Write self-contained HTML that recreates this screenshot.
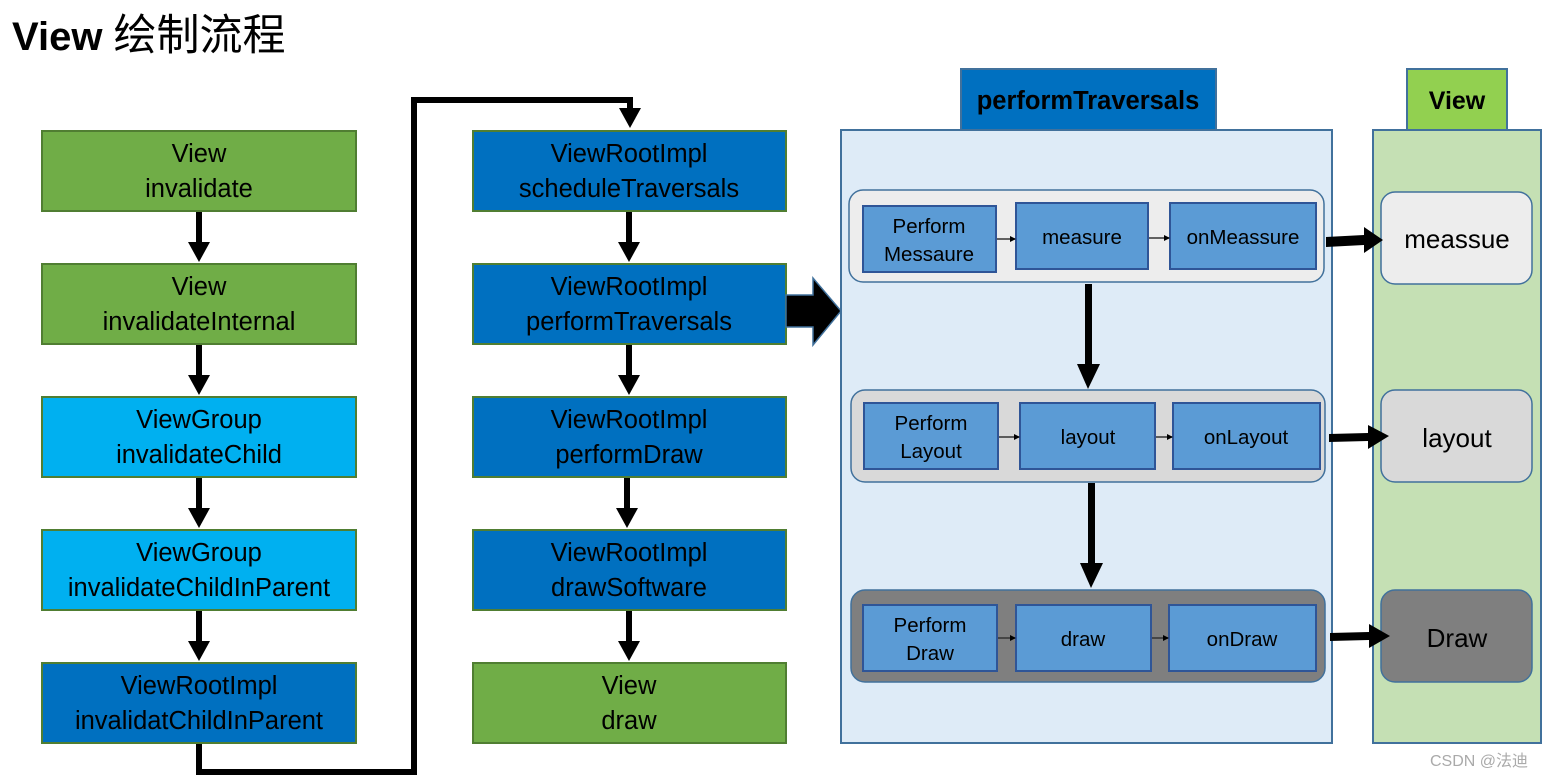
<!DOCTYPE html>
<html><head><meta charset="utf-8"><style>
html,body{margin:0;padding:0;background:#fff;}
svg{display:block;}
text{font-family:"Liberation Sans","Noto Sans CJK SC",sans-serif;}
</style></head><body>
<svg width="1543" height="778" viewBox="0 0 1543 778" xmlns="http://www.w3.org/2000/svg">
<defs>
<marker id="sm" markerWidth="6" markerHeight="6" refX="5" refY="3" orient="auto" markerUnits="userSpaceOnUse"><path d="M0,0 L6,3 L0,6 z" fill="#000"/></marker>
</defs>
<text x="12" y="50" font-size="40" font-weight="bold" fill="#000">View <tspan font-weight="normal" font-size="43">绘制流程</tspan></text>

<g font-size="25.5" text-anchor="middle" fill="#000" stroke-width="2">
<rect x="42" y="131" width="314" height="80" fill="#70ad47" stroke="#507e32"/>
<text x="199" y="162">View</text><text x="199" y="197">invalidate</text>
<rect x="42" y="264" width="314" height="80" fill="#70ad47" stroke="#507e32"/>
<text x="199" y="295">View</text><text x="199" y="330">invalidateInternal</text>
<rect x="42" y="397" width="314" height="80" fill="#00b0f0" stroke="#507e32"/>
<text x="199" y="428">ViewGroup</text><text x="199" y="463">invalidateChild</text>
<rect x="42" y="530" width="314" height="80" fill="#00b0f0" stroke="#507e32"/>
<text x="199" y="561">ViewGroup</text><text x="199" y="596">invalidateChildInParent</text>
<rect x="42" y="663" width="314" height="80" fill="#0070c0" stroke="#507e32"/>
<text x="199" y="694">ViewRootImpl</text><text x="199" y="729">invalidatChildInParent</text>

<rect x="473" y="131" width="313" height="80" fill="#0070c0" stroke="#507e32"/>
<text x="629" y="162">ViewRootImpl</text><text x="629" y="197">scheduleTraversals</text>
<rect x="473" y="264" width="313" height="80" fill="#0070c0" stroke="#507e32"/>
<text x="629" y="295">ViewRootImpl</text><text x="629" y="330">performTraversals</text>
<rect x="473" y="397" width="313" height="80" fill="#0070c0" stroke="#507e32"/>
<text x="629" y="428">ViewRootImpl</text><text x="629" y="463">performDraw</text>
<rect x="473" y="530" width="313" height="80" fill="#0070c0" stroke="#507e32"/>
<text x="629" y="561">ViewRootImpl</text><text x="629" y="596">drawSoftware</text>
<rect x="473" y="663" width="313" height="80" fill="#70ad47" stroke="#507e32"/>
<text x="629" y="694">View</text><text x="629" y="729">draw</text>
</g>

<g stroke="#000" stroke-width="6" fill="#000">
<line x1="199" y1="212" x2="199" y2="245"/><path d="M188,242 L210,242 L199,262 z" stroke="none"/>
<line x1="199" y1="345" x2="199" y2="378"/><path d="M188,375 L210,375 L199,395 z" stroke="none"/>
<line x1="199" y1="478" x2="199" y2="511"/><path d="M188,508 L210,508 L199,528 z" stroke="none"/>
<line x1="199" y1="611" x2="199" y2="644"/><path d="M188,641 L210,641 L199,661 z" stroke="none"/>
<line x1="629" y1="212" x2="629" y2="245"/><path d="M618,242 L640,242 L629,262 z" stroke="none"/>
<line x1="629" y1="345" x2="629" y2="378"/><path d="M618,375 L640,375 L629,395 z" stroke="none"/>
<line x1="627" y1="478" x2="627" y2="511"/><path d="M616,508 L638,508 L627,528 z" stroke="none"/>
<line x1="629" y1="611" x2="629" y2="644"/><path d="M618,641 L640,641 L629,661 z" stroke="none"/>
</g>
<polyline points="199,744 199,772 414,772 414,100 630,100 630,112" fill="none" stroke="#000" stroke-width="6"/>
<path d="M619,108 L641,108 L630,128 z" fill="#000"/>

<path d="M786,295 L813,295 L813,278 L841,311 L813,345 L813,327 L786,327 z" fill="#000" stroke="#41719c" stroke-width="1.5"/>

<rect x="841" y="130" width="491" height="613" fill="#deebf7" stroke="#41719c" stroke-width="2"/>
<rect x="961" y="69" width="255" height="61" fill="#0070c0" stroke="#41719c" stroke-width="2"/>
<text x="1088" y="109" font-size="25.5" font-weight="bold" text-anchor="middle" fill="#000">performTraversals</text>

<rect x="1373" y="130" width="168" height="613" fill="#c5e0b4" stroke="#41719c" stroke-width="2"/>
<rect x="1407" y="69" width="100" height="61" fill="#92d050" stroke="#41719c" stroke-width="2"/>
<text x="1457" y="109" font-size="25" font-weight="bold" text-anchor="middle" fill="#000">View</text>

<g stroke="#41719c" stroke-width="1.5">
<rect x="849" y="190" width="475" height="92" rx="14" fill="#ededed"/>
<rect x="851" y="390" width="474" height="92" rx="14" fill="#d9d9d9"/>
<rect x="851" y="590" width="474" height="92" rx="14" fill="#7f7f7f"/>
<rect x="1381" y="192" width="151" height="92" rx="14" fill="#ededed"/>
<rect x="1381" y="390" width="151" height="92" rx="14" fill="#d9d9d9"/>
<rect x="1381" y="590" width="151" height="92" rx="14" fill="#7f7f7f"/>
</g>
<g stroke="#2f5597" stroke-width="2" fill="#5b9bd5">
<rect x="863" y="206" width="133" height="66"/>
<rect x="1016" y="203" width="132" height="66"/>
<rect x="1170" y="203" width="146" height="66"/>
<rect x="864" y="403" width="134" height="66"/>
<rect x="1020" y="403" width="135" height="66"/>
<rect x="1173" y="403" width="147" height="66"/>
<rect x="863" y="605" width="134" height="66"/>
<rect x="1016" y="605" width="135" height="66"/>
<rect x="1169" y="605" width="147" height="66"/>
</g>
<g stroke="#333" stroke-width="1.5" marker-end="url(#sm)">
<line x1="997" y1="239" x2="1015" y2="239"/>
<line x1="1149" y1="238" x2="1169" y2="238"/>
<line x1="999" y1="437" x2="1019" y2="437"/>
<line x1="1156" y1="437" x2="1172" y2="437"/>
<line x1="998" y1="638" x2="1015" y2="638"/>
<line x1="1152" y1="638" x2="1168" y2="638"/>
</g>
<g font-size="20.5" text-anchor="middle" fill="#000">
<text x="929" y="233">Perform</text><text x="929" y="261">Messaure</text>
<text x="1082" y="244">measure</text>
<text x="1243" y="244">onMeassure</text>
<text x="931" y="430">Perform</text><text x="931" y="458">Layout</text>
<text x="1088" y="444">layout</text>
<text x="1246" y="444">onLayout</text>
<text x="930" y="632">Perform</text><text x="930" y="660">Draw</text>
<text x="1083" y="646">draw</text>
<text x="1242" y="646">onDraw</text>
</g>
<g font-size="26" text-anchor="middle" fill="#000">
<text x="1457" y="248">meassue</text>
<text x="1457" y="447">layout</text>
<text x="1457" y="647">Draw</text>
</g>

<g fill="#000">
<rect x="1085" y="284" width="7" height="82"/><path d="M1077,364 L1100,364 L1088,389 z"/>
<rect x="1088" y="483" width="7" height="82"/><path d="M1080,563 L1103,563 L1091,588 z"/>
<path d="M1326,237 L1364,235 L1364,227 L1383,240 L1364,253 L1364,245 L1326,247 z"/>
<path d="M1329,434 L1368,433 L1368,425 L1389,436 L1368,449 L1368,441 L1329,442 z"/>
<path d="M1330,633 L1369,632 L1369,624 L1390,636 L1369,648 L1369,640 L1330,641 z"/>
</g>
<text x="1528" y="766" font-size="16" text-anchor="end" fill="#aaa">CSDN @法迪</text>
</svg>
</body></html>
